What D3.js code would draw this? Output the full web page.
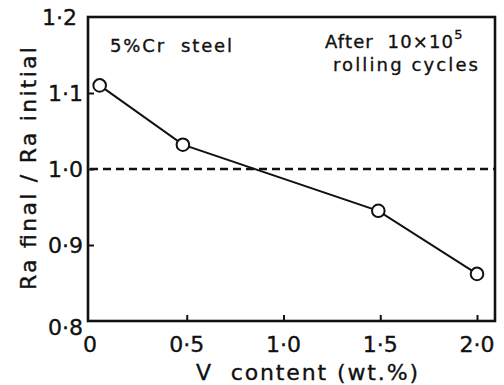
<!DOCTYPE html>
<html><head><meta charset="utf-8">
<script src="https://cdn.jsdelivr.net/npm/d3@7"></script>
<style>body{margin:0;background:#fff}svg{display:block}text{font-family:"DejaVu Sans",sans-serif;fill:#111;stroke:#111;stroke-width:0.35px;white-space:pre}</style>
</head><body>
<script>
const vContent = [0.05, 0.48, 1.49, 2.0];
const raRatio = [1.11, 1.032, 0.945, 0.862];
const xTicks = [0, 0.5, 1.0, 1.5, 2.0];
const xTickLabels = ["0", "0·5", "1·0", "1·5", "2·0"];
const yTicks = [0.8, 0.9, 1.0, 1.1, 1.2];
const yTickLabels = ["0·8", "0·9", "1·0", "1·1", "1·2"];
const refLine = 1.0;

const W = 504, H = 385;
const svg = d3.select("body").append("svg").attr("width", W).attr("height", H);
const x = d3.scaleLinear().domain([0, 2.0]).range([90, 477]);
const y = d3.scaleLinear().domain([0.8, 1.2]).range([321, 17]);
const xMax = x.invert(495);

// frame
svg.append("rect").attr("x", x(0) - 2).attr("y", y(1.2)).attr("width", x(xMax) - x(0) + 2)
  .attr("height", y(0.8) - y(1.2)).attr("fill", "none").attr("stroke", "#111").attr("stroke-width", 2.6);

// ticks (inward)
const xAxis = d3.axisTop(x).tickValues(xTicks.slice(1)).tickSize(6).tickFormat("");
svg.append("g").attr("transform", `translate(0,${y(0.8)})`).call(xAxis)
  .call(g => { g.select(".domain").remove(); g.selectAll("line").attr("stroke", "#111").attr("stroke-width", 2); });
const yAxis = d3.axisRight(y).tickValues([0.9, 1.0, 1.1]).tickSize(6).tickFormat("");
svg.append("g").attr("transform", `translate(${x(0) - 2},0)`).call(yAxis)
  .call(g => { g.select(".domain").remove(); g.selectAll("line").attr("stroke", "#111").attr("stroke-width", 2); });

// tick labels
svg.selectAll(".xl").data(xTicks).enter().append("text")
  .attr("x", d => x(d)).attr("y", 352).attr("text-anchor", "middle")
  .attr("font-size", 22).text((d, i) => xTickLabels[i]);
svg.selectAll(".yl").data(yTicks).enter().append("text")
  .attr("x", d => d === 1.2 ? 77 : 83).attr("y", d => y(d) + (d === 0.8 ? 14 : 8)).attr("text-anchor", "end")
  .attr("font-size", 22).text((d, i) => yTickLabels[i]);

// dashed reference
svg.append("line").attr("x1", x(0)).attr("x2", x(xMax)).attr("y1", y(refLine)).attr("y2", y(refLine))
  .attr("stroke", "#111").attr("stroke-width", 2.4).attr("stroke-dasharray", "8,5");

// data line
const pts = vContent.map((v, i) => [v, raRatio[i]]);
svg.append("path").datum(pts).attr("fill", "none").attr("stroke", "#111").attr("stroke-width", 2)
  .attr("d", d3.line().x(d => x(d[0])).y(d => y(d[1])));
svg.selectAll("circle").data(pts).enter().append("circle")
  .attr("cx", d => x(d[0])).attr("cy", d => y(d[1])).attr("r", 6.3)
  .attr("fill", "#fff").attr("stroke", "#111").attr("stroke-width", 2);

// annotations
svg.append("text").attr("x", 110).attr("y", 52).attr("font-size", 18)
  .attr("textLength", 122).attr("lengthAdjust", "spacing").text("5%Cr  steel");
const t1 = svg.append("text").attr("x", 325).attr("y", 48).attr("font-size", 18);
t1.append("tspan").attr("textLength", 128).attr("lengthAdjust", "spacing").text("After  10×10");
t1.append("tspan").attr("dy", -9).attr("font-size", 13).text("5");
svg.append("text").attr("x", 333).attr("y", 71).attr("font-size", 18)
  .attr("textLength", 145).attr("lengthAdjust", "spacing").text("rolling cycles");

// axis titles
svg.append("text").attr("x", 196).attr("y", 380).attr("font-size", 22)
  .attr("textLength", 222).attr("lengthAdjust", "spacing").text("V  content (wt.%)");
svg.append("text").attr("transform", "translate(36,290) rotate(-90)")
  .attr("font-size", 22).attr("textLength", 243).attr("lengthAdjust", "spacing").text("Ra final / Ra initial");
</script>
</body></html>
